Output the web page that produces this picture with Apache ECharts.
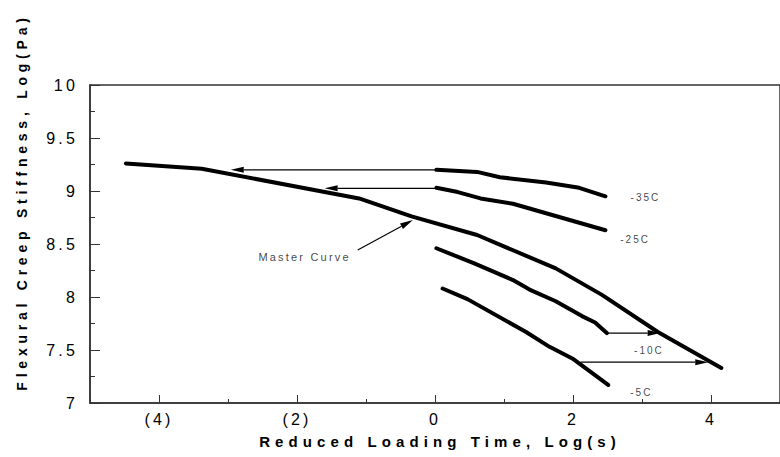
<!DOCTYPE html>
<html>
<head>
<meta charset="utf-8">
<script src="https://cdn.jsdelivr.net/npm/echarts@6/dist/echarts.min.js"></script>
<style>
  html, body { margin: 0; padding: 0; background: #fff; }
  #chart { width: 780px; height: 457px; }
  /* wide-tracked lettering used throughout the figure */
  #chart text { letter-spacing: 0.2em; }
  #chart text[style*="bold"] { letter-spacing: 0.34em; }
</style>
</head>
<body>
<div id="chart"></div>
<script>
// Master curve and the isothermal creep-stiffness curves, [log time, log stiffness]
const masterCurve = [[-4.48, 9.26], [-3.38, 9.21], [-1.10, 8.93], [-0.34, 8.76], [0.61, 8.585], [1.75, 8.27], [2.42, 8.02], [3.23, 7.67], [4.15, 7.33]];
const curveM35 = [[0.02, 9.20], [0.61, 9.18], [0.94, 9.13], [1.61, 9.08], [2.09, 9.03], [2.47, 8.95]];
const curveM25 = [[0.02, 9.03], [0.33, 8.99], [0.66, 8.93], [1.13, 8.88], [1.61, 8.79], [2.47, 8.63]];
const curveM10 = [[0.02, 8.46], [0.56, 8.32], [1.13, 8.16], [1.37, 8.07], [1.75, 7.96], [2.13, 7.82], [2.32, 7.76], [2.49, 7.66]];
const curveM5 = [[0.11, 8.08], [0.47, 7.98], [1.32, 7.67], [1.66, 7.53], [1.99, 7.42], [2.51, 7.17]];

// Time-temperature shift arrows: [fromX, fromY, toX, toY]
const shiftArrows = [[0.0, 9.20, -2.96, 9.20], [0.0, 9.025, -1.60, 9.025], [2.49, 7.66, 3.27, 7.66], [2.11, 7.385, 3.96, 7.385]];
// Pointer from the "Master Curve" caption to the curve
const captionArrow = [[-1.12, 8.443, -0.32, 8.726]];

// Curve captions: [text, x, y]
const curveLabels = [['-35C', 3.05, 8.934], ['-25C', 2.90, 8.54], ['-10C', 3.10, 7.50], ['-5C', 2.99, 7.10]];
const masterLabel = [['Master Curve', -1.89, 8.38]];

// Axis ticks
const xMajorTicks = [-4, -2, 0, 2, 4];
const xMinorTicks = [-5, -3, -1, 1, 3, 5];

const FONT = '"Liberation Sans", Arial, sans-serif';
const AXIS_COLOR = '#333';

function curveSeries(name, data) {
  return {
    name: name,
    type: 'line',
    data: data,
    showSymbol: false,
    symbol: 'none',
    silent: true,
    lineStyle: { color: '#000', width: 4, cap: 'round', join: 'round' },
    z: 3
  };
}

function arrowSeries(name, data) {
  return {
    name: name,
    type: 'custom',
    data: data,
    silent: true,
    z: 4,
    renderItem: function (params, api) {
      const p0 = api.coord([api.value(0), api.value(1)]);
      const p1 = api.coord([api.value(2), api.value(3)]);
      const dx = p1[0] - p0[0], dy = p1[1] - p0[1];
      const len = Math.sqrt(dx * dx + dy * dy) || 1;
      const ux = dx / len, uy = dy / len;
      const headLen = 13, headHalf = 3;
      const bx = p1[0] - ux * headLen, by = p1[1] - uy * headLen;
      return {
        type: 'group',
        children: [
          {
            type: 'line',
            shape: { x1: p0[0], y1: p0[1], x2: bx, y2: by },
            style: { stroke: '#000', lineWidth: 1.2 }
          },
          {
            type: 'polygon',
            shape: {
              points: [
                [p1[0], p1[1]],
                [bx - uy * headHalf, by + ux * headHalf],
                [bx + uy * headHalf, by - ux * headHalf]
              ]
            },
            style: { fill: '#000' }
          }
        ]
      };
    }
  };
}

function labelSeries(name, data, fontSize) {
  return {
    name: name,
    type: 'scatter',
    symbolSize: 0,
    silent: true,
    data: data.map(d => ({ name: d[0], value: [d[1], d[2]] })),
    label: {
      show: true,
      position: 'inside',
      formatter: '{b}',
      color: '#111',
      fontFamily: FONT,
      fontSize: fontSize
    },
    z: 5
  };
}

const chart = echarts.init(document.getElementById('chart'), null, { renderer: 'svg' });

chart.setOption({
  animation: false,
  backgroundColor: '#fff',
  grid: {
    left: 90, right: -11, top: 85, bottom: 54,
    show: true, borderColor: AXIS_COLOR, borderWidth: 1.5, backgroundColor: 'transparent'
  },
  xAxis: [
    {
      type: 'value', min: -5, max: 5,
      axisLine: { show: true, onZero: false, lineStyle: { color: AXIS_COLOR, width: 1.5 } },
      axisTick: { show: true, inside: true, length: 8, customValues: xMajorTicks, lineStyle: { color: AXIS_COLOR, width: 1 } },
      axisLabel: {
        customValues: xMajorTicks,
        margin: 8,
        color: '#000', fontFamily: FONT, fontSize: 16,
        formatter: v => (v < 0 ? '(' + (-v) + ')' : String(v))
      },
      splitLine: { show: false }
    },
    {
      type: 'value', min: -5, max: 5, position: 'bottom',
      axisLine: { show: false, onZero: false },
      axisTick: { show: true, inside: true, length: 4, customValues: xMinorTicks, lineStyle: { color: AXIS_COLOR, width: 1 } },
      axisLabel: { show: false },
      splitLine: { show: false }
    }
  ],
  yAxis: {
    type: 'value', min: 7, max: 10, interval: 0.5,
    axisLine: { show: true, onZero: false, lineStyle: { color: AXIS_COLOR, width: 1.5 } },
    axisTick: { show: true, inside: true, length: 10, lineStyle: { color: AXIS_COLOR, width: 1 } },
    minorTick: { show: true, splitNumber: 2, length: 5, lineStyle: { color: AXIS_COLOR, width: 1 } },
    axisLabel: { margin: 12, color: '#000', fontFamily: FONT, fontSize: 16 },
    splitLine: { show: false }
  },
  graphic: [
    {
      type: 'text', x: 22, y: 202, rotation: Math.PI / 2,
      style: {
        text: 'Flexural Creep Stiffness, Log(Pa)',
        align: 'center', verticalAlign: 'middle',
        fill: '#000', font: 'bold 14px ' + FONT
      }
    },
    {
      type: 'text', x: 440, y: 441,
      style: {
        text: 'Reduced Loading Time, Log(s)',
        align: 'center', verticalAlign: 'middle',
        fill: '#000', font: 'bold 15px ' + FONT
      }
    }
  ],
  series: [
    curveSeries('Master Curve', masterCurve),
    curveSeries('-35C', curveM35),
    curveSeries('-25C', curveM25),
    curveSeries('-10C', curveM10),
    curveSeries('-5C', curveM5),
    arrowSeries('shifts', shiftArrows),
    arrowSeries('caption pointer', captionArrow),
    labelSeries('curve captions', curveLabels, 10),
    labelSeries('master caption', masterLabel, 11)
  ]
});
</script>
</body>
</html>
